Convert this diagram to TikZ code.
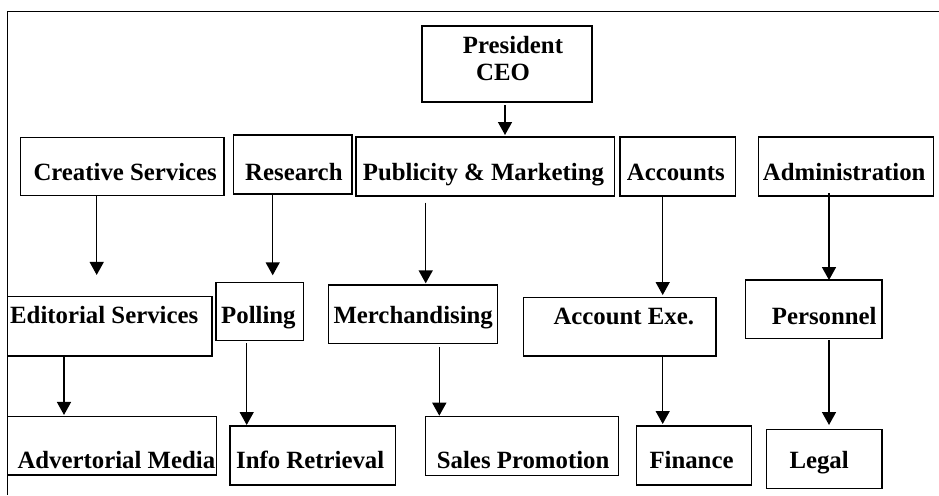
\documentclass[tikz,border=0pt]{standalone}
\usepackage{fontspec}
\setmainfont{Liberation Serif}
\usetikzlibrary{arrows.meta}
\begin{document}
\begin{tikzpicture}[x=1pt,y=-1pt,
  box/.style={draw,line width=1.5pt,inner sep=0pt,outer sep=0pt,rectangle},
  lbl/.style={anchor=base west,inner sep=0pt,font=\fontsize{24.8}{28}\selectfont\bfseries},
  arr/.style={line width=1.5pt,-{Triangle[length=13pt,width=14pt]}}]
\useasboundingbox (0,0) rectangle (939,495);
% frame
\coordinate (ftl) at (7.3,11.3);
\coordinate (ftr) at (939,11.3);
\coordinate (fbl) at (7.3,495);
\draw[line width=1.5pt] (ftr) -- (ftl) -- (fbl);
% boxes
\node[box,minimum width=170pt,minimum height=76pt] (ceo) at (507,64) {};
\node[box,minimum width=203.3pt,minimum height=58.4pt] (cs) at (122.3,166.5) {};
\node[box,minimum width=118.7pt,minimum height=59pt] (res) at (292.7,164.5) {};
\node[box,minimum width=258.3pt,minimum height=59pt] (pub) at (485.2,166.5) {};
\node[box,minimum width=115.7pt,minimum height=59pt] (acc) at (677.8,166.5) {};
\node[box,minimum width=174.6pt,minimum height=59pt] (adm) at (846,166.5) {};
\node[box,minimum width=204.7pt,minimum height=59.3pt] (ed) at (109.7,326.3) {};
\node[box,minimum width=87.3pt,minimum height=58.4pt] (pol) at (259.7,311.5) {};
\node[box,minimum width=169pt,minimum height=58.3pt] (mer) at (412.8,314.2) {};
\node[box,minimum width=192.7pt,minimum height=58.7pt] (ae) at (619.7,326.7) {};
\node[box,minimum width=136.3pt,minimum height=58.3pt] (per) at (813.8,309.2) {};
\node[box,minimum width=209.4pt,minimum height=58.3pt] (adv) at (112,445.8) {};
\node[box,minimum width=165.3pt,minimum height=59pt] (info) at (312.7,455.5) {};
\node[box,minimum width=192.6pt,minimum height=59pt] (sp) at (522,446.2) {};
\node[box,minimum width=115pt,minimum height=59pt] (fin) at (694.2,455.5) {};
\node[box,minimum width=115.3pt,minimum height=59pt] (leg) at (824.3,458.8) {};
% labels
\node[lbl] (t-pres) at (462.7,53.3) {President};
\node[lbl] (t-ceo) at (476,81) {CEO};
\node[lbl] (t-cs) at (33.3,180) {Creative Services};
\node[lbl] (t-res) at (245,180) {Research};
\node[lbl] (t-pub) at (362.7,180) {Publicity \& Marketing};
\node[lbl] (t-acc) at (626.7,180) {Accounts};
\node[lbl] (t-adm) at (762.7,180) {Administration};
\node[lbl] (t-ed) at (10,323.3) {Editorial Services};
\node[lbl] (t-pol) at (221,323.3) {Polling};
\node[lbl] (t-mer) at (333.3,323.3) {Merchandising};
\node[lbl] (t-ae) at (553.3,324) {Account Exe.};
\node[lbl] (t-per) at (771.7,324) {Personnel};
\node[lbl] (t-adv) at (17.3,468.3) {Advertorial Media};
\node[lbl] (t-info) at (236,468.3) {Info Retrieval};
\node[lbl] (t-sp) at (436.7,468.3) {Sales Promotion};
\node[lbl] (t-fin) at (649.3,468.3) {Finance};
\node[lbl] (t-leg) at (789.3,468.3) {Legal};
% arrow columns
\coordinate (k0) at (505,0);
\coordinate (k1) at (96.7,0);
\coordinate (k2) at (272.7,0);
\coordinate (k3) at (425.7,0);
\coordinate (k4) at (662.7,0);
\coordinate (k5) at (829,0);
\coordinate (k6) at (64,0);
\coordinate (k7) at (246.7,0);
\coordinate (k8) at (439.3,0);
% arrows
\draw[arr,shorten <=3pt,shorten >=2pt] (ceo.south -| k0) -- (pub.north -| k0);
\draw[arr,shorten >=21.7pt] (cs.south -| k1) -- (ed.north -| k1);
\draw[arr,shorten >=7pt] (res.south -| k2) -- (pol.north -| k2);
\draw[arr,shorten <=6.7pt,shorten >=1.7pt] (pub.south -| k3) -- (mer.north -| k3);
\draw[arr,shorten >=2.3pt] (acc.south -| k4) -- (ae.north -| k4);
\draw[arr,shorten <=-2.7pt] (adm.south -| k5) -- (per.north -| k5);
\draw[arr,shorten >=1.7pt] (ed.south -| k6) -- (adv.north -| k6);
\draw[arr,shorten <=2.6pt,shorten >=1pt] (pol.south -| k7) -- (info.north -| k7);
\draw[arr,shorten <=4pt,shorten >=1pt] (mer.south -| k8) -- (sp.north -| k8);
\draw[arr,shorten >=2pt] (ae.south -| k4) -- (fin.north -| k4);
\draw[arr,shorten <=1.7pt,shorten >=4.3pt] (per.south -| k5) -- (leg.north -| k5);
\end{tikzpicture}
\end{document}
